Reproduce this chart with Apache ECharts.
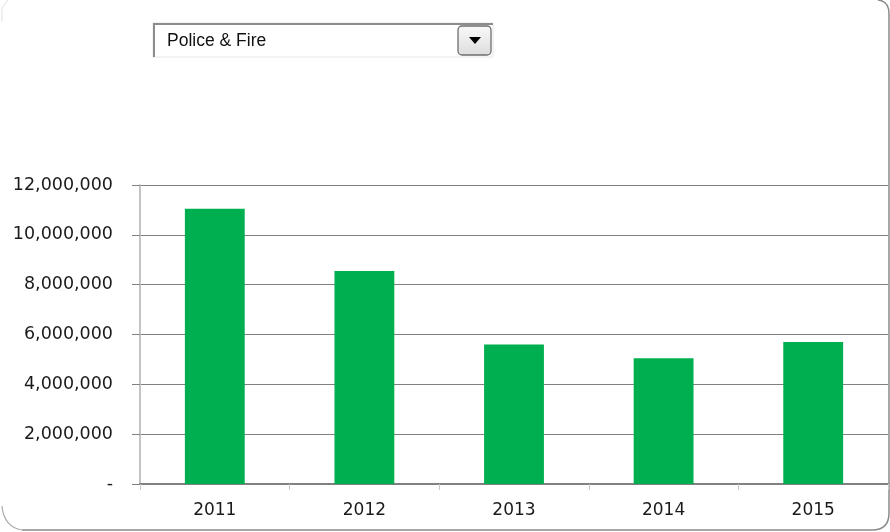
<!DOCTYPE html>
<html><head><meta charset="utf-8">
<script src="https://cdn.jsdelivr.net/npm/echarts@6/dist/echarts.min.js"></script>
<style>html,body{margin:0;padding:0;background:#fff}#c{width:890px;height:532px}</style>
</head><body><div id="c"></div>
<script>
const categories = ['2011','2012','2013','2014','2015'];
const values = [11050000, 8550000, 5600000, 5050000, 5700000];
const dropdownText = 'Police & Fire';

const chart = echarts.init(document.getElementById('c'), null, {renderer:'canvas'});
const fmt = v => v === 0 ? '-' : v.toLocaleString('en-US');
chart.setOption({
  animation:false,
  backgroundColor:'#fff',
  grid:{left:140, right:2, top:185, bottom:48, containLabel:false},
  xAxis:{
    type:'category', data:categories,
    axisLine:{show:true, lineStyle:{color:'#808080', width:2}},
    axisTick:{show:true, alignWithLabel:false, length:6, lineStyle:{color:'#c8c8c8'}},
    axisLabel:{color:'#1a1a1a', fontFamily:'DejaVu Sans', fontSize:17, margin:18}
  },
  yAxis:{
    type:'value', min:0, max:12000000, interval:2000000,
    axisLine:{show:true, lineStyle:{color:'#c4c4c4', width:2}},
    axisTick:{show:true, length:8, lineStyle:{color:'#808080'}},
    splitLine:{show:true, lineStyle:{color:'#808080', width:1}},
    axisLabel:{color:'#1a1a1a', fontFamily:'DejaVu Sans', fontSize:17.5, margin:27, formatter:fmt}
  },
  series:[{type:'bar', data:values, barWidth:'40%', itemStyle:{color:'#00B050'}}],
  graphic:[
    {type:'line', shape:{x1:22, y1:530, x2:872, y2:530}, style:{stroke:'#8a8a8a', lineWidth:1.5}, silent:true},
    {type:'bezierCurve', shape:{x1:872, y1:530, x2:889, y2:513, cpx1:889, cpy1:530}, style:{stroke:'#8a8a8a', lineWidth:1.5, fill:null}, silent:true},
    {type:'line', shape:{x1:889, y1:513, x2:889, y2:14}, style:{stroke:'#8a8a8a', lineWidth:1.5}, silent:true},
    {type:'bezierCurve', shape:{x1:889, y1:14, x2:878, y2:0, cpx1:889, cpy1:1}, style:{stroke:'#8a8a8a', lineWidth:1.5, fill:null}, silent:true},
    {type:'bezierCurve', shape:{x1:2, y1:506, x2:22, y2:530, cpx1:4, cpy1:527}, style:{stroke:'#aaaaaa', lineWidth:1.2, fill:null}, silent:true},
    {type:'polyline', shape:{points:[[2,22],[2,8],[8,0]]}, style:{stroke:'#e2e2e2', lineWidth:1, fill:null}, silent:true},
    {type:'rect', shape:{x:153, y:23, width:340, height:34}, style:{fill:'#ffffff', stroke:'#e6e6e6', lineWidth:1}, silent:true},
    {type:'polyline', shape:{points:[[154,57],[154,24],[493,24]]}, style:{stroke:'#8c8c8c', lineWidth:2, fill:null}, silent:true},
    {type:'text', style:{x:167, y:41, text:dropdownText, verticalAlign:'middle', fill:'#111', font:'17.5px "Liberation Sans", Arial, sans-serif'}, silent:true},
    {type:'rect', shape:{x:458, y:26, width:33, height:29, r:4}, style:{fill:{type:'linear',x:0,y:0,x2:0,y2:1,colorStops:[{offset:0,color:'#fafafa'},{offset:1,color:'#dcdcdc'}]}, stroke:'#6e6e6e', lineWidth:1.3}, silent:true},
    {type:'polygon', shape:{points:[[469,37],[481,37],[475,44]]}, style:{fill:'#000'}, silent:true}
  ]
});
</script></body></html>
